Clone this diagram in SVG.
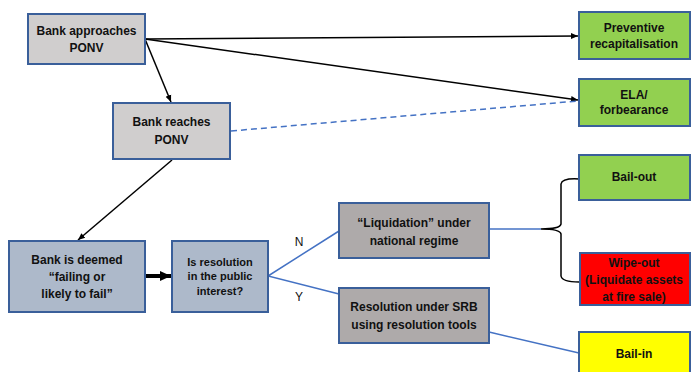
<svg xmlns="http://www.w3.org/2000/svg" width="692" height="372" viewBox="0 0 692 372">
<defs>
<style>
.t{font-family:"Liberation Sans",Arial,sans-serif;font-weight:bold;font-size:12px;fill:#111;text-anchor:middle}
.s{font-size:11px}
.l{font-family:"Liberation Sans",Arial,sans-serif;font-size:12px;fill:#111;text-anchor:middle}
.box{stroke:#3a5f9a;stroke-width:2}
.grey{fill:#d0cece}
.bg{fill:#adb9ca}
.dg{fill:#aeaaaa}
.green{fill:#92d050}
.red{fill:#ff0000}
.yellow{fill:#ffff00}
.k{stroke:#000;stroke-width:1.5;fill:none}
.b{stroke:#4472c4;stroke-width:1.5;fill:none}
</style>
<marker id="ah" markerWidth="8" markerHeight="8" refX="7" refY="4" orient="auto" markerUnits="userSpaceOnUse">
<path d="M0,1 L7,4 L0,7 z" fill="#000"/>
</marker>
<marker id="ahb" markerWidth="12" markerHeight="12" refX="11" refY="6" orient="auto" markerUnits="userSpaceOnUse">
<path d="M0,1 L11,6 L0,11 z" fill="#000"/>
</marker>
</defs>
<rect width="692" height="372" fill="#fff"/>
<g id="connectors">
<line class="k" x1="145" y1="39" x2="578" y2="36" marker-end="url(#ah)"/>
<line class="k" x1="145" y1="39" x2="578" y2="100" marker-end="url(#ah)"/>
<line class="k" x1="145" y1="39" x2="171" y2="102" marker-end="url(#ah)"/>
<line class="b" x1="231" y1="131" x2="578" y2="101" stroke-dasharray="6,4" stroke-width="2"/>
<line class="k" x1="172" y1="160" x2="78" y2="240" marker-end="url(#ah)" stroke-width="2"/>
<line x1="145" y1="276" x2="171" y2="276" stroke="#000" stroke-width="4" marker-end="url(#ahb)"/>
<polyline class="b" points="339,231 268,276 339,294"/>
<line class="b" x1="489" y1="229" x2="541" y2="229"/>
<line class="b" x1="489" y1="332" x2="579" y2="353"/>
<path class="k" d="M579,179 Q562,178 561,184 L561,224 Q560,229 541,229 Q560,229 561,234 L561,276 Q562,282 579,282" stroke-width="2"/>
<text class="l" x="299" y="246">N</text>
<text class="l" x="299" y="301">Y</text>
</g>
<g id="n1"><rect class="box grey" x="28" y="14" width="117" height="50"/>
<text class="t" x="86.5" y="35">Bank approaches</text><text class="t" x="86.5" y="52">PONV</text></g>
<g id="n2"><rect class="box grey" x="113" y="103" width="117" height="56"/>
<text class="t" x="171.5" y="126">Bank reaches</text><text class="t" x="171.5" y="144">PONV</text></g>
<g id="n3"><rect class="box bg" x="9" y="241" width="136" height="71"/>
<text class="t" x="77" y="264">Bank is deemed</text><text class="t" x="77" y="281">“failing or</text><text class="t" x="77" y="298">likely to fail”</text></g>
<g id="n4"><rect class="box bg" x="172" y="241" width="96" height="71"/>
<text class="t s" x="220" y="266">Is resolution</text><text class="t s" x="220" y="280">in the public</text><text class="t s" x="220" y="295">interest?</text></g>
<g id="n5"><rect class="box dg" x="339" y="203" width="150" height="55"/>
<text class="t" x="414" y="227">“Liquidation” under</text><text class="t" x="414" y="245">national regime</text></g>
<g id="n6"><rect class="box dg" x="339" y="288" width="150" height="55"/>
<text class="t" x="414" y="311">Resolution under SRB</text><text class="t" x="414" y="329">using resolution tools</text></g>
<g id="n7"><rect class="box green" x="579" y="12" width="111" height="47"/>
<text class="t" x="634" y="32">Preventive</text><text class="t" x="634" y="48">recapitalisation</text></g>
<g id="n8"><rect class="box green" x="579" y="79" width="111" height="47"/>
<text class="t" x="634" y="99">ELA/</text><text class="t" x="634" y="114">forbearance</text></g>
<g id="n9"><rect class="box green" x="579" y="155" width="111" height="45"/>
<text class="t" x="634" y="181">Bail-out</text></g>
<g id="n10"><rect class="box red" x="580" y="253" width="110" height="52"/>
<text class="t" x="634" y="267">Wipe-out</text><text class="t" x="634" y="284">(Liquidate assets</text><text class="t" x="634" y="301">at fire sale)</text></g>
<g id="n11"><rect class="box yellow" x="579" y="332" width="111" height="45"/>
<text class="t" x="634" y="358">Bail-in</text></g>
</svg>
